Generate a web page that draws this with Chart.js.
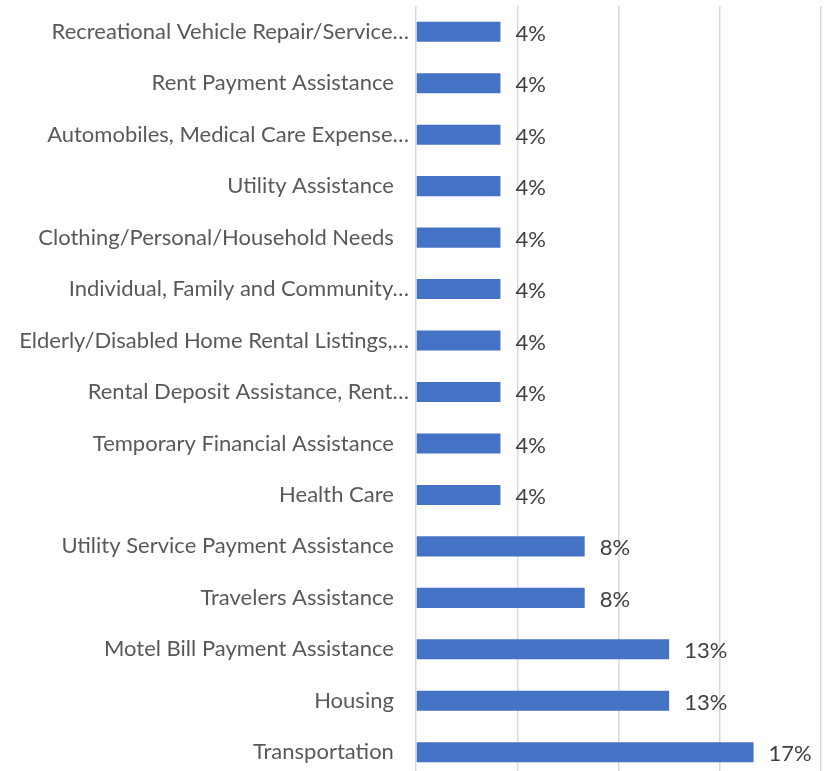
<!DOCTYPE html>
<html>
<head>
<meta charset="utf-8">
<script src="https://cdn.jsdelivr.net/npm/chart.js@4/dist/chart.umd.min.js"></script>
<style>
  html, body { margin: 0; padding: 0; background: #ffffff; overflow: hidden; }
  #wrap { position: relative; width: 829px; height: 778px; }
</style>
</head>
<body>
<div id="wrap"><canvas id="c" width="829" height="778"></canvas></div>
<script>
// Categories, top to bottom as shown
const categories = [
  "Recreational Vehicle Repair/Service…",
  "Rent Payment Assistance",
  "Automobiles, Medical Care Expense…",
  "Utility Assistance",
  "Clothing/Personal/Household Needs",
  "Individual, Family and Community…",
  "Elderly/Disabled Home Rental Listings,…",
  "Rental Deposit Assistance, Rent…",
  "Temporary Financial Assistance",
  "Health Care",
  "Utility Service Payment Assistance",
  "Travelers Assistance",
  "Motel Bill Payment Assistance",
  "Housing",
  "Transportation"
];
// Share of responses, percent
const values = [4.17, 4.17, 4.17, 4.17, 4.17, 4.17, 4.17, 4.17, 4.17, 4.17, 8.33, 8.33, 12.5, 12.5, 16.67];
const xTicks = [0, 5, 10, 15, 20];

const FONT = "Lato";
const FONT_SIZE = 22;

const dataLabels = {
  id: 'dataLabels',
  afterDatasetsDraw(chart) {
    const ctx = chart.ctx;
    const meta = chart.getDatasetMeta(0);
    ctx.save();
    ctx.font = FONT_SIZE + 'px ' + FONT;
    ctx.fillStyle = '#404040';
    ctx.textAlign = 'left';
    ctx.textBaseline = 'middle';
    meta.data.forEach((bar, i) => {
      ctx.fillText(Math.round(values[i]) + '%', bar.x + 15, bar.y + 2);
    });
    ctx.restore();
  }
};

new Chart(document.getElementById('c'), {
  type: 'bar',
  data: {
    labels: categories,
    datasets: [{
      data: values,
      backgroundColor: '#4472C4',
      borderWidth: 0,
      categoryPercentage: 1.0,
      barPercentage: 0.39
    }]
  },
  options: {
    indexAxis: 'y',
    responsive: false,
    animation: false,
    devicePixelRatio: 1,
    layout: { padding: { top: 6, right: 8, bottom: 0, left: 0 } },
    plugins: { legend: { display: false }, tooltip: { enabled: false } },
    scales: {
      x: {
        min: 0, max: 20,
        afterBuildTicks(scale) { scale.ticks = xTicks.map(v => ({ value: v })); },
        ticks: { display: false },
        grid: { color: '#d9d9d9', lineWidth: 1.5, drawTicks: false },
        border: { display: false },
        afterFit(scale) { scale.height = 0; scale.paddingLeft = 0; scale.paddingRight = 0; }
      },
      y: {
        afterFit(scale) { scale.width = 416; scale.paddingTop = 0; scale.paddingBottom = 0; },
        grid: { display: false, drawTicks: false },
        border: { display: false },
        ticks: {
          padding: 7,
          color: '#595959',
          font: { family: FONT, size: FONT_SIZE },
          autoSkip: false,
          callback(v, i) {
            const s = categories[i];
            return s.endsWith('…') ? s : s + '\u2002\u2009\u200A';
          }
        }
      }
    }
  },
  plugins: [dataLabels]
});
</script>
</body>
</html>
